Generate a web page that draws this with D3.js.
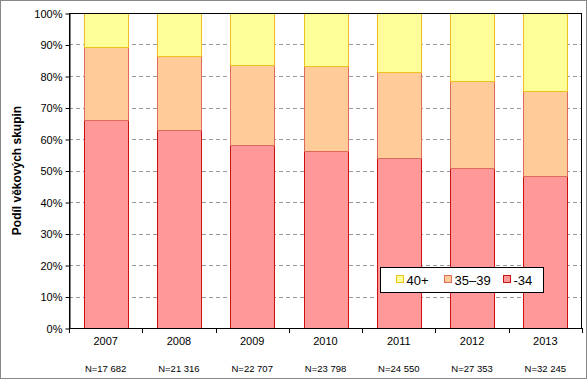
<!DOCTYPE html>
<html>
<head>
<meta charset="utf-8">
<script src="https://cdn.jsdelivr.net/npm/d3@7"></script>
<style>
  body { margin: 0; background: #fff; }
  svg { font-family: Arial, "Liberation Sans", sans-serif; }
</style>
</head>
<body>
<div id="chart"></div>
<script>
// data (percent)
const years = ["2007", "2008", "2009", "2010", "2011", "2012", "2013"];
const counts = ["N=17 682", "N=21 316", "N=22 707", "N=23 798", "N=24 550", "N=27 353", "N=32 245"];
const young = [66, 63, 58, 56.3, 54, 50.8, 48.2];     // -34
const middle = [23.1, 23.2, 25.5, 26.9, 27.3, 27.6, 26.9]; // 35–39
const old = young.map((v, i) => 100 - v - middle[i]);  // 40+ is the rest
const seriesNames = ["-34", "35–39", "40+"];
const yTicks = [0, 10, 20, 30, 40, 50, 60, 70, 80, 90, 100];

const W = 587, H = 379;
const margin = {top: 13, right: 5, bottom: 51, left: 69};

const svg = d3.select("#chart").append("svg")
    .attr("width", W)
    .attr("height", H);

// outer frame
svg.append("rect")
    .attr("x", 0.5).attr("y", 0.5)
    .attr("width", W - 1).attr("height", H - 1)
    .attr("fill", "#fff")
    .attr("stroke", "#888");

const x = d3.scaleBand()
    .domain(years)
    .range([margin.left, W - margin.right])
    .paddingInner(0.4)
    .paddingOuter(0.2);

const y = d3.scaleLinear()
    .domain([0, 100])
    .range([H - margin.bottom, margin.top]);

// grid
svg.append("g")
    .selectAll("line")
    .data(yTicks.filter(d => d > 0 && d < 100))
    .enter().append("line")
    .attr("x1", margin.left).attr("x2", W - margin.right)
    .attr("y1", d => Math.round(y(d)) + 0.5)
    .attr("y2", d => Math.round(y(d)) + 0.5)
    .attr("stroke", "#999")
    .attr("stroke-dasharray", "4,3");

// stacked bars
const rows = years.map((yr, i) => ({year: yr, "-34": young[i], "35–39": middle[i], "40+": old[i]}));
const stack = d3.stack().keys(seriesNames)(rows);
const fills = {"-34": "#ff9999", "35–39": "#ffcc99", "40+": "#ffff99"};
const strokes = {"-34": "#cc1111", "35–39": "#e06a5a", "40+": "#f0c020"};

svg.append("g")
    .selectAll("g")
    .data(stack)
    .enter().append("g")
    .attr("fill", d => fills[d.key])
    .attr("stroke", d => strokes[d.key])
    .selectAll("rect")
    .data(d => d)
    .enter().append("rect")
    .attr("x", d => Math.round(x(d.data.year)) + 0.5)
    .attr("y", d => Math.round(y(d[1])) + 0.5)
    .attr("width", Math.round(x.bandwidth()))
    .attr("height", d => Math.round(y(d[0])) - Math.round(y(d[1])));

// plot frame (top and right)
svg.append("rect")
    .attr("x", margin.left + 0.5).attr("y", margin.top + 0.5)
    .attr("width", W - margin.right - margin.left - 1)
    .attr("height", H - margin.bottom - margin.top)
    .attr("fill", "none")
    .attr("stroke", "#000");

// y axis
const yAxis = svg.append("g")
    .attr("transform", "translate(" + (margin.left + 0.5) + ",0.5)")
    .call(d3.axisLeft(y).tickValues(yTicks).tickFormat(d => d + "%").tickSize(4).tickSizeOuter(0));
yAxis.selectAll("text").style("font-size", "11px").attr("fill", "#000").attr("x", -7);
yAxis.select(".domain").attr("stroke", "#000");

// x axis: ticks sit between the categories
const step = x.step();
const bounds = d3.range(years.length + 1).map(i => margin.left + i * (W - margin.right - margin.left) / years.length);
const xg = svg.append("g");
xg.append("line")
    .attr("x1", margin.left).attr("x2", W - margin.right)
    .attr("y1", y(0) + 0.5).attr("y2", y(0) + 0.5)
    .attr("stroke", "#000");
xg.selectAll(".tk")
    .data(bounds)
    .enter().append("line")
    .attr("x1", d => Math.round(d) + 0.5).attr("x2", d => Math.round(d) + 0.5)
    .attr("y1", y(0)).attr("y2", y(0) + 5)
    .attr("stroke", "#000");

xg.selectAll(".yr")
    .data(years)
    .enter().append("text")
    .attr("x", d => x(d) + x.bandwidth() / 2)
    .attr("y", 345)
    .attr("text-anchor", "middle")
    .style("font-size", "11px")
    .text(d => d);

xg.selectAll(".n")
    .data(counts)
    .enter().append("text")
    .attr("x", (d, i) => x(years[i]) + x.bandwidth() / 2)
    .attr("y", 372)
    .attr("text-anchor", "middle")
    .style("font-size", "9.5px")
    .text(d => d);

// y title
svg.append("text")
    .attr("transform", "translate(21," + ((margin.top + H - margin.bottom) / 2) + ") rotate(-90)")
    .attr("text-anchor", "middle")
    .style("font-size", "12px")
    .style("font-weight", "bold")
    .text("Podíl věkových skupin");

// legend
const legend = svg.append("g").attr("transform", "translate(380.5,267.5)");
legend.append("rect")
    .attr("width", 163).attr("height", 25)
    .attr("fill", "#fff").attr("stroke", "#000");
const legendItems = [
  {key: "40+", x: 16},
  {key: "35–39", x: 64},
  {key: "-34", x: 123}
];
legendItems.forEach(it => {
  legend.append("rect")
      .attr("x", it.x).attr("y", 8)
      .attr("width", 7).attr("height", 7)
      .attr("fill", fills[it.key]).attr("stroke", strokes[it.key]);
  legend.append("text")
      .attr("x", it.x + 10).attr("y", 17)
      .style("font-size", "13px")
      .text(it.key);
});
</script>
</body>
</html>
